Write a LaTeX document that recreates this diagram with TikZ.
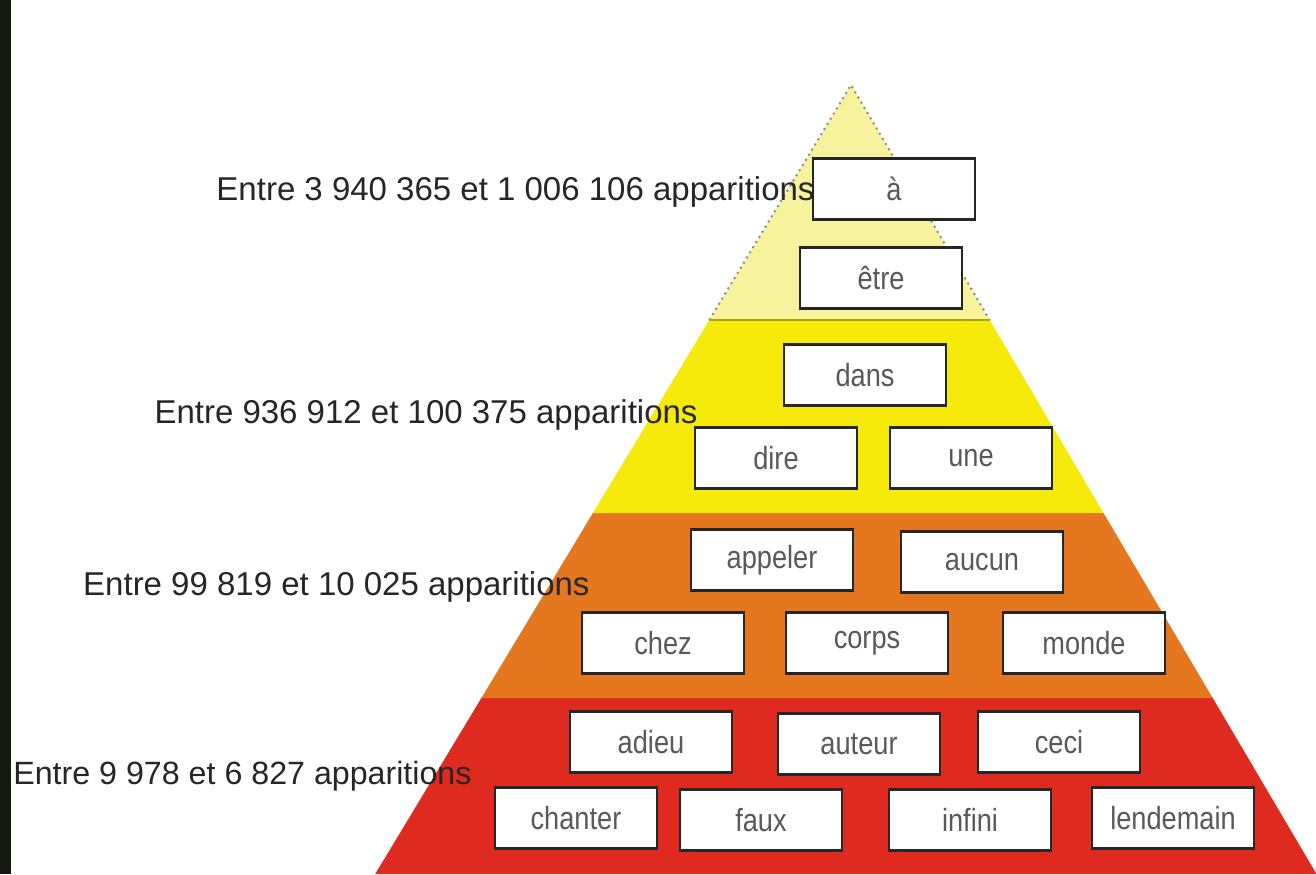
\documentclass[tikz,border=0pt]{standalone}
\usepackage{fontspec}
\setmainfont{Liberation Sans}
\newfontfamily\wordfont[FakeStretch=0.85]{Liberation Sans}

\definecolor{pyrPale}{HTML}{F9F29C}
\definecolor{pyrYellow}{HTML}{F6EA0B}
\definecolor{pyrOrange}{HTML}{E5781E}
\definecolor{pyrRed}{HTML}{DF2A1F}
\definecolor{stripDark}{HTML}{151A10}

\begin{document}
\begin{tikzpicture}[
  x=0.5pt, y=-0.5pt,
  word/.style={
    draw=black!85,
    line width=1.1pt,
    fill=white,
    minimum width=81pt,
    minimum height=30.5pt,
    inner sep=0pt,
    font=\wordfont\fontsize{16}{18}\selectfont,
    text=black!65
  },
  rangelabel/.style={
    anchor=east,
    inner sep=0pt,
    font=\fontsize{16.5}{19}\selectfont,
    text=black!85
  }
]
\useasboundingbox (0,0) rectangle (1316,874);
\fill[white] (0,0) rectangle (1316,874);
\fill[stripDark] (0,0) rectangle (11,874);

% Pyramid
\fill[pyrRed] (375.2,874) -- (481.4,698) -- (1212.7,698) -- (1316.5,874) -- cycle;
\fill[pyrOrange] (481.4,698) -- (592.9,513) -- (1103.5,513) -- (1212.7,698) -- cycle;
\fill[pyrYellow] (592.9,513) -- (709.3,320) -- (989.7,320) -- (1103.5,513) -- cycle;
\fill[pyrPale] (709.3,320) -- (851,85) -- (989.7,320) -- cycle;
\draw[black!45, dotted, line width=1pt] (709.3,320) -- (851,85) -- (989.7,320);
\draw[pyrYellow!70!black, line width=0.8pt] (709.3,320) -- (989.7,320);

% Words
\node[word] (a) at (894,189) {à};
\node[word] (etre) at (881,278) {être};
\node[word] (dans) at (865,375) {dans};
\node[word] (dire) at (776,458) {dire};
\node[word] (une) at (971,458) {une};
\node[word] (appeler) at (772,560) {appeler};
\node[word] (aucun) at (982,562) {aucun};
\node[word] (chez) at (663,643) {chez};
\node[word] (corps) at (867,643) {corps};
\node[word] (monde) at (1084,643) {monde};
\node[word] (adieu) at (651,742) {adieu};
\node[word] (auteur) at (859,744) {auteur};
\node[word] (ceci) at (1059,742) {ceci};
\node[word] (chanter) at (576,818) {chanter};
\node[word] (faux) at (761,820) {faux};
\node[word] (infini) at (970,820) {infini};
\node[word] (lendemain) at (1173,818) {lendemain};

% Ranges
\node[rangelabel] (r1) at (815,192) {Entre 3 940 365 et 1 006 106 apparitions};
\node[rangelabel] (r2) at (698,415) {Entre 936 912 et 100 375 apparitions};
\node[rangelabel] (r3) at (590,587) {Entre 99 819 et 10 025 apparitions};
\node[rangelabel, font=\fontsize{16.1}{19}\selectfont] (r4) at (472,776) {Entre 9 978 et 6 827 apparitions};

\end{tikzpicture}
\end{document}
